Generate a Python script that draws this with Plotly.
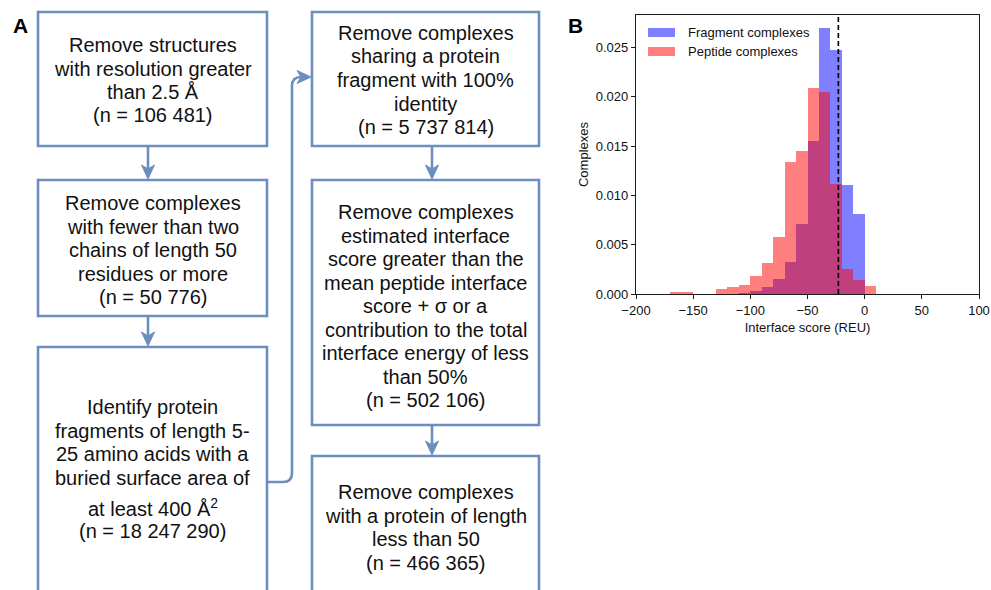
import plotly.graph_objects as go

# ---------------- data ----------------
# Flowchart steps (each line of text in a box)
step_lines = [
    ["Remove structures", "with resolution greater", "than 2.5 Å", "(n = 106 481)"],
    ["Remove complexes", "with fewer than two", "chains of length 50", "residues or more", "(n = 50 776)"],
    ["Identify protein", "fragments of length 5-", "25 amino acids with a", "buried surface area of",
     "at least 400 Å<sup>2</sup>", "(n = 18 247 290)"],
    ["Remove complexes", "sharing a protein", "fragment with 100%", "identity", "(n = 5 737 814)"],
    ["Remove complexes", "estimated interface", "score greater than the", "mean peptide interface",
     "score + σ or a", "contribution to the total", "interface energy of less", "than 50%", "(n = 502 106)"],
    ["Remove complexes", "with a protein of length", "less than 50", "(n = 466 365)"],
]

# Histogram (density, bin width 10 REU), left bin edges
bin_left = [-180, -170, -160, -150, -140, -130, -120, -110, -100, -90,
            -80, -70, -60, -50, -40, -30, -20, -10, 0]
fragment_density = [0.0, 0.0, 0.0, 0.0, 0.0, 0.0, 0.0, 0.0001, 0.00027, 0.00069,
                    0.00151, 0.00329, 0.0071, 0.01548, 0.02693, 0.0247, 0.01107, 0.0081, 0.0]
peptide_density = [0.00005, 0.00025, 0.0002, 0.00003, 0.00003, 0.00052, 0.00073, 0.00093, 0.00184, 0.00313,
                   0.00577, 0.01334, 0.01453, 0.0209, 0.02045, 0.01118, 0.00256, 0.00143, 0.00086]
bin_width = 10
threshold = -23  # mean peptide interface score + sigma

x_ticks = [-200, -150, -100, -50, 0, 50, 100]
y_ticks = [0.0, 0.005, 0.010, 0.015, 0.020, 0.025]

# ---------------- layout helpers ----------------
W, H = 991, 590
FONT = "Liberation Sans, Arial, sans-serif"
BOX_COLOR = "#6C8EBF"
LW = 2.6


def px(x):
    return x / W


def py(y):
    return 1 - y / H


shapes = []
annotations = []

# box geometry: (left, top, right, bottom, first text line y, line step)
boxes = [
    (38, 12, 267, 146, 45, 23.5),
    (38, 180, 267, 316, 203, 23.5),
    (38, 347, 267, 640, 407, 23.5),
    (312, 12, 539, 146, 33, 23.5),
    (312, 180, 539, 425, 212, 23.5),
    (312, 456, 539, 640, 492, 23.5),
]

for (l, t, r, b, y0, step), lines in zip(boxes, step_lines):
    shapes.append(dict(type="rect", xref="paper", yref="paper",
                       x0=px(l), x1=px(r), y0=py(b), y1=py(t),
                       line=dict(color=BOX_COLOR, width=LW), fillcolor="white", layer="below"))
    y = y0
    for i, txt in enumerate(lines):
        if i > 0 and "<sup>" in txt:
            y += 6  # extra room for the superscript line
        annotations.append(dict(x=px((l + r) / 2), y=py(y), xref="paper", yref="paper",
                                text=txt, showarrow=False, xanchor="center", yanchor="middle",
                                font=dict(family=FONT, size=20, color="#111111")))
        y += step


def down_arrow(x, y_from, y_to):
    shapes.append(dict(type="line", xref="paper", yref="paper",
                       x0=px(x), x1=px(x), y0=py(y_from), y1=py(y_to - 8),
                       line=dict(color=BOX_COLOR, width=LW)))
    path = (f"M {px(x)},{py(y_to)} L {px(x - 6.5)},{py(y_to - 14)} "
            f"L {px(x)},{py(y_to - 10)} L {px(x + 6.5)},{py(y_to - 14)} Z")
    shapes.append(dict(type="path", xref="paper", yref="paper", path=path,
                       fillcolor=BOX_COLOR, line=dict(color=BOX_COLOR, width=1)))


down_arrow(148, 147, 179)
down_arrow(148, 317, 346)
down_arrow(432, 147, 179)
down_arrow(432, 426, 455)

# connector from the fragment box up to the identity-filter box
cx = 292
conn = (f"M {px(268)},{py(482)} L {px(cx - 9)},{py(482)} "
        f"Q {px(cx)},{py(482)} {px(cx)},{py(473)} "
        f"L {px(cx)},{py(86)} "
        f"Q {px(cx)},{py(77)} {px(cx + 9)},{py(77)} "
        f"L {px(303)},{py(77)}")
shapes.append(dict(type="path", xref="paper", yref="paper", path=conn,
                   line=dict(color=BOX_COLOR, width=LW)))
head = (f"M {px(311)},{py(77)} L {px(297)},{py(70.5)} "
        f"L {px(301)},{py(77)} L {px(297)},{py(83.5)} Z")
shapes.append(dict(type="path", xref="paper", yref="paper", path=head,
                   fillcolor=BOX_COLOR, line=dict(color=BOX_COLOR, width=1)))

# panel labels
annotations.append(dict(x=px(20), y=py(25), xref="paper", yref="paper", text="<b>A</b>",
                        showarrow=False, xanchor="center", yanchor="middle",
                        font=dict(family=FONT, size=21, color="black")))
annotations.append(dict(x=px(575), y=py(25), xref="paper", yref="paper", text="<b>B</b>",
                        showarrow=False, xanchor="center", yanchor="middle",
                        font=dict(family=FONT, size=21, color="black")))

# ---------------- histogram ----------------
centers = [b + bin_width / 2 for b in bin_left]
blue = "rgba(0,0,255,0.5)"
red = "rgba(255,0,0,0.5)"

fig = go.Figure()
fig.add_trace(go.Bar(x=centers, y=fragment_density, width=bin_width, name="Fragment complexes",
                     marker=dict(color=blue, line=dict(width=0)), showlegend=False))
fig.add_trace(go.Bar(x=centers, y=peptide_density, width=bin_width, name="Peptide complexes",
                     marker=dict(color=red, line=dict(width=0)), showlegend=False))

shapes.append(dict(type="line", xref="x", yref="y domain", x0=threshold, x1=threshold, y0=0, y1=1,
                   line=dict(color="black", width=1.6, dash="5px,3px")))

# legend drawn as patches + labels
for i, (name, col) in enumerate([("Fragment complexes", blue), ("Peptide complexes", red)]):
    yc = 32.5 + 19 * i
    shapes.append(dict(type="rect", xref="paper", yref="paper",
                       x0=px(648), x1=px(675), y0=py(yc + 4.5), y1=py(yc - 4.5),
                       fillcolor=col, line=dict(width=0)))
    annotations.append(dict(x=px(686), y=py(yc), xref="paper", yref="paper", text=name,
                            showarrow=False, xanchor="left", yanchor="middle",
                            font=dict(family=FONT, size=13, color="#111111")))

y_top = max(max(fragment_density), max(peptide_density)) * 1.05

axis_common = dict(showline=True, mirror=True, linecolor="#1a1a1a", linewidth=1.3,
                   ticks="outside", ticklen=4, tickwidth=1.1, tickcolor="#1a1a1a",
                   showgrid=False, zeroline=False,
                   tickfont=dict(family=FONT, size=13, color="#111111"))

fig.update_layout(
    width=W, height=H,
    margin=dict(l=0, r=0, t=0, b=0, pad=0, autoexpand=False),
    paper_bgcolor="white", plot_bgcolor="white",
    barmode="overlay", bargap=0,
    xaxis=dict(domain=[px(636), px(979)], range=[-200, 100], tickvals=x_ticks,
               title=dict(text="Interface score (REU)", standoff=6,
                          font=dict(family=FONT, size=13, color="#111111")),
               **axis_common),
    yaxis=dict(domain=[py(294), py(15)], range=[0, y_top], tickvals=y_ticks, tickformat=".3f",
               title=dict(text="Complexes", standoff=4,
                          font=dict(family=FONT, size=13, color="#111111")),
               **axis_common),
    shapes=shapes,
    annotations=annotations,
)

fig.write_html("out.html")
